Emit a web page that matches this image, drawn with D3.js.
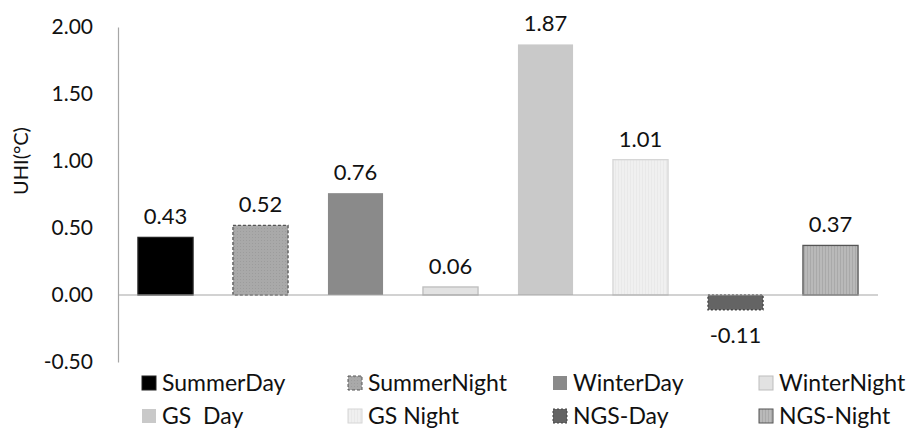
<!DOCTYPE html>
<html>
<head>
<meta charset="utf-8">
<script src="https://cdn.jsdelivr.net/npm/d3@7"></script>
<style>
  html, body { margin: 0; padding: 0; background: #fff; }
  svg { display: block; font-family: Lato, "Open Sans", sans-serif; }
</style>
</head>
<body>
<svg id="chart" width="907" height="438"></svg>
<script>
// UHI intensity by season / green-space condition
const categories = ["SummerDay", "SummerNight", "WinterDay", "WinterNight", "GS  Day", "GS Night", "NGS-Day", "NGS-Night"];
const values = [0.43, 0.52, 0.76, 0.06, 1.87, 1.01, -0.11, 0.37];
const yTicks = [-0.5, 0, 0.5, 1.0, 1.5, 2.0];
const fills = ["#000000", "url(#dots)", "#8a8a8a", "#e2e2e2", "#c9c9c9", "url(#vlinesLight)", "#646464", "url(#vlinesDark)"];
const strokes = ["#222", "#555", "none", "#bdbdbd", "none", "#d6d6d6", "#444", "#555"];
const dashes = [null, "3,2", null, null, null, null, "2,2", null];

const svg = d3.select("#chart");
const margin = { left: 118, right: 29, top: 27, bottom: 76 };
const W = 907, H = 438;
const ink = "#111";

const fmt = d3.formatLocale({ decimal: ".", thousands: ",", grouping: [3], currency: ["", ""], minus: "-" }).format(".2f");

const x = d3.scaleBand().domain(categories).range([margin.left, W - margin.right]).paddingInner(0.42).paddingOuter(0.21);
const y = d3.scaleLinear().domain([-0.5, 2.0]).range([H - margin.bottom, margin.top]);

// patterns
const defs = svg.append("defs");
const p1 = defs.append("pattern").attr("id", "dots").attr("patternUnits", "userSpaceOnUse").attr("width", 3).attr("height", 3);
p1.append("rect").attr("width", 3).attr("height", 3).attr("fill", "#a9a9a9");
p1.append("rect").attr("width", 1).attr("height", 1).attr("fill", "#9c9c9c");
const p2 = defs.append("pattern").attr("id", "vlinesLight").attr("patternUnits", "userSpaceOnUse").attr("width", 3).attr("height", 3);
p2.append("rect").attr("width", 3).attr("height", 3).attr("fill", "#f0f0f0");
p2.append("rect").attr("width", 1).attr("height", 3).attr("fill", "#e9e9e9");
const p3 = defs.append("pattern").attr("id", "vlinesDark").attr("patternUnits", "userSpaceOnUse").attr("width", 3).attr("height", 3);
p3.append("rect").attr("width", 3).attr("height", 3).attr("fill", "#b9b9b9");
p3.append("rect").attr("width", 1).attr("height", 3).attr("fill", "#a9a9a9");

// y axis
const yAxis = d3.axisLeft(y).tickValues(yTicks).tickSize(0).tickPadding(25).tickFormat(fmt);
const gy = svg.append("g").attr("transform", `translate(${margin.left},0)`).call(yAxis);
gy.select(".domain").attr("stroke", "#a6a6a6").attr("stroke-width", 1.2);
gy.selectAll("text").attr("font-size", 21).attr("fill", ink).attr("font-family", "Lato, sans-serif");

// axis title
svg.append("text")
  .attr("transform", `translate(28,161) rotate(-90)`)
  .attr("text-anchor", "middle")
  .attr("font-size", 20)
  .attr("fill", ink)
  .text("UHI(°C)");

// bars
const data = categories.map((c, i) => ({ c, v: values[i], i }));
svg.append("g").selectAll("rect").data(data).join("rect")
  .attr("x", d => x(d.c))
  .attr("width", x.bandwidth())
  .attr("y", d => y(Math.max(0, d.v)))
  .attr("height", d => Math.abs(y(d.v) - y(0)))
  .attr("fill", d => fills[d.i])
  .attr("stroke", d => strokes[d.i])
  .attr("stroke-width", 1.3)
  .attr("stroke-dasharray", d => dashes[d.i]);

// zero line
svg.append("line")
  .attr("x1", margin.left).attr("x2", W - margin.right)
  .attr("y1", y(0)).attr("y2", y(0))
  .attr("stroke", "#a6a6a6").attr("stroke-width", 1.2);

// value labels
svg.append("g").selectAll("text").data(data).join("text")
  .attr("x", d => x(d.c) + x.bandwidth() / 2)
  .attr("y", d => d.v >= 0 ? y(d.v) - 13 : y(d.v) + 33)
  .attr("text-anchor", "middle")
  .attr("font-size", 22)
  .attr("fill", ink)
  .text(d => fmt(d.v));

// legend: 4 columns x 2 rows
const legendCols = [142, 348, 553, 759];
const legendRows = [383, 416];
const lg = svg.append("g").selectAll("g").data(data).join("g")
  .attr("transform", d => `translate(${legendCols[d.i % 4]},${legendRows[Math.floor(d.i / 4)]})`);
lg.append("rect")
  .attr("x", 0).attr("y", -7).attr("width", 14).attr("height", 14)
  .attr("fill", d => fills[d.i])
  .attr("stroke", d => strokes[d.i] === "none" ? null : strokes[d.i])
  .attr("stroke-width", 1)
  .attr("stroke-dasharray", d => dashes[d.i]);
lg.append("text")
  .attr("x", 20).attr("y", 0).attr("dy", "0.36em")
  .attr("font-size", 23)
  .attr("fill", ink)
  .style("white-space", "pre")
  .text(d => d.c);
</script>
</body>
</html>
